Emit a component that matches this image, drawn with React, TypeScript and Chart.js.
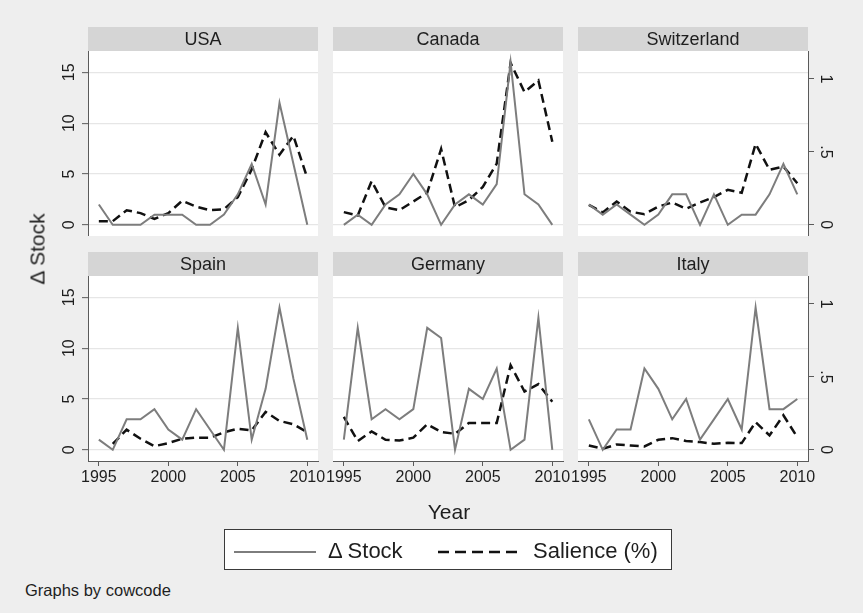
import React, { useEffect, useRef } from 'react';
import { Chart, registerables } from 'chart.js';

Chart.register(...registerables);

const FONT = '"Liberation Sans", Arial, Helvetica, sans-serif';
Chart.defaults.font.family = FONT;

// ---------- data ----------
const years = [1995, 1996, 1997, 1998, 1999, 2000, 2001, 2002, 2003, 2004, 2005, 2006, 2007, 2008, 2009, 2010];
const xTicks = [1995, 2000, 2005, 2010];
const stockTicks = [0, 5, 10, 15];
const salienceTicks = [0, 0.5, 1];
const salienceTickLabels = ['0', '.5', '1'];

const usaStock = [2, 0, 0, 0, 1, 1, 1, 0, 0, 1, 3, 6, 2, 12, 6, 0];
const usaSalience = [0.025, 0.025, 0.1, 0.08, 0.04, 0.08, 0.165, 0.125, 0.1, 0.107, 0.19, 0.38, 0.635, 0.48, 0.61, 0.32];

const canadaStock = [0, 1, 0, 2, 3, 5, 3, 0, 2, 3, 2, 4, 16, 3, 2, 0];
const canadaSalience = [0.087, 0.064, 0.3, 0.12, 0.1, 0.16, 0.22, 0.52, 0.12, 0.17, 0.26, 0.42, 1.11, 0.91, 0.99, 0.57];

const switzerlandStock = [2, 1, 2, 1, 0, 1, 3, 3, 0, 3, 0, 1, 1, 3, 6, 3];
const switzerlandSalience = [0.137, 0.085, 0.16, 0.09, 0.073, 0.125, 0.153, 0.11, 0.153, 0.19, 0.24, 0.22, 0.555, 0.377, 0.4, 0.285];

const spainStock = [1, 0, 3, 3, 4, 2, 1, 4, 2, 0, 12, 1, 6, 14, 7, 1];
const spainSalience = [null, 0.04, 0.138, 0.076, 0.025, 0.046, 0.076, 0.083, 0.083, 0.12, 0.145, 0.133, 0.26, 0.198, 0.175, 0.12];

const germanyStock = [1, 12, 3, 4, 3, 4, 12, 11, 0, 6, 5, 8, 0, 1, 13, 0];
const germanySalience = [0.225, 0.06, 0.126, 0.069, 0.064, 0.083, 0.175, 0.122, 0.11, 0.184, 0.184, 0.184, 0.58, 0.4, 0.45, 0.33];

const italyStock = [3, 0, 2, 2, 8, 6, 3, 5, 1, 3, 5, 2, 14, 4, 4, 5];
const italySalience = [0.03, 0.007, 0.037, 0.03, 0.023, 0.069, 0.08, 0.06, 0.053, 0.041, 0.048, 0.046, 0.19, 0.099, 0.237, 0.087];

const seriesLabels = ['\u0394 Stock', 'Salience (%)'];
const yTitle = '\u0394 Stock';
const xTitle = 'Year';
const note = 'Graphs by cowcode';

// ---------- layout / style ----------
const STOCK_MIN = -1.1;
const STOCK_MAX = 17.1;
const RATIO = 14.35; // stock units per salience unit
const X_MIN = 1994.22;
const X_MAX = 2010.77;

const AXIS = '#5a5a5a';
const GRID = '#e6e6e6';
const TEXT = '#1e1e1e';
const STOCK_COLOR = '#7d7d7d';
const SAL_COLOR = '#111111';
const HEADER = '#d5d5d5';

const SIDE = 16; // extra canvas room so tick labels are not clipped
const COLS = [
  { left: 48, width: 270 + SIDE, leftW: 40, rightW: 0, padL: 0, padR: SIDE },
  { left: 333 - SIDE, width: 230 + 2 * SIDE, leftW: 0, rightW: 0, padL: SIDE, padR: SIDE },
  { left: 578 - SIDE, width: 272 + SIDE, leftW: 0, rightW: 42, padL: SIDE, padR: 0 },
];
const ROWS = [
  { top: 27, height: 209, bottomH: 0 },
  { top: 252, height: 238, bottomH: 29 },
];
const HEADER_H = 24;

type PanelProps = {
  title: string;
  stock: number[];
  salience: (number | null)[];
  col: number;
  row: number;
};

const panelPlugin = (title: string) => ({
  id: 'panelBg',
  beforeDraw(chart: any) {
    const { ctx, chartArea: a } = chart;
    ctx.save();
    ctx.fillStyle = '#ffffff';
    ctx.fillRect(a.left, a.top, a.right - a.left, a.bottom - a.top);
    ctx.fillStyle = HEADER;
    ctx.fillRect(a.left, 0, a.right - a.left, a.top);
    ctx.fillStyle = TEXT;
    ctx.font = `18px ${FONT}`;
    ctx.textAlign = 'center';
    ctx.textBaseline = 'middle';
    ctx.fillText(title, (a.left + a.right) / 2, a.top / 2 + 1);
    ctx.restore();
  },
});

function Panel({ title, stock, salience, col, row }: PanelProps) {
  const ref = useRef<HTMLCanvasElement>(null);
  const c = COLS[col];
  const r = ROWS[row];
  useEffect(() => {
    if (!ref.current) return;
    const showLeft = col === 0;
    const showRight = col === 2;
    const showBottom = row === 1;
    const chart = new Chart(ref.current, {
      type: 'line',
      data: {
        datasets: [
          {
            label: seriesLabels[0],
            data: years.map((y, i) => ({ x: y, y: stock[i] })),
            borderColor: STOCK_COLOR,
            borderWidth: 2,
            pointRadius: 0,
            tension: 0,
            yAxisID: 'y',
          },
          {
            label: seriesLabels[1],
            data: years.map((y, i) => ({ x: y, y: salience[i] })),
            borderColor: SAL_COLOR,
            borderWidth: 2.5,
            borderDash: [9, 5],
            pointRadius: 0,
            tension: 0,
            yAxisID: 'y2',
          },
        ],
      },
      options: {
        animation: false,
        responsive: false,
        events: [],
        layout: { padding: { top: HEADER_H, left: c.padL, right: c.padR, bottom: 0 } },
        plugins: {
          legend: { display: false },
          tooltip: { enabled: false },
          title: { display: false },
        },
        scales: {
          x: {
            type: 'linear',
            position: 'bottom',
            min: X_MIN,
            max: X_MAX,
            bounds: 'data',
            display: showBottom,
            afterBuildTicks: (s: any) => {
              s.ticks = xTicks.map((v) => ({ value: v }));
            },
            afterFit: (s: any) => {
              s.height = r.bottomH;
              s.paddingLeft = 0;
              s.paddingRight = 0;
            },
            grid: {
              drawOnChartArea: false,
              drawTicks: true,
              tickLength: 5,
              tickColor: AXIS,
              tickWidth: 1,
            },
            border: { display: true, color: AXIS, width: 1 },
            ticks: {
              autoSkip: false,
              minRotation: 0,
              maxRotation: 0,
              padding: 2,
              color: TEXT,
              font: { size: 16 },
              callback: (v: any) => String(v),
            },
          },
          y: {
            type: 'linear',
            position: 'left',
            min: STOCK_MIN,
            max: STOCK_MAX,
            bounds: 'data',
            display: true,
            afterBuildTicks: (s: any) => {
              s.ticks = stockTicks.map((v) => ({ value: v }));
            },
            afterFit: (s: any) => {
              s.width = c.leftW;
              s.paddingTop = 0;
              s.paddingBottom = 0;
            },
            grid: {
              color: GRID,
              lineWidth: 1.3,
              drawTicks: showLeft,
              tickLength: 6,
              tickColor: AXIS,
              tickWidth: 1,
            },
            border: { display: showLeft, color: AXIS, width: 1 },
            ticks: {
              display: showLeft,
              minRotation: 90,
              maxRotation: 90,
              crossAlign: 'center',
              padding: 4,
              color: TEXT,
              font: { size: 16 },
              callback: (v: any) => String(v),
            },
          },
          y2: {
            type: 'linear',
            position: 'right',
            min: STOCK_MIN / RATIO,
            max: STOCK_MAX / RATIO,
            bounds: 'data',
            display: showRight,
            afterBuildTicks: (s: any) => {
              s.ticks = salienceTicks.map((v) => ({ value: v }));
            },
            afterFit: (s: any) => {
              s.width = c.rightW;
              s.paddingTop = 0;
              s.paddingBottom = 0;
            },
            grid: {
              drawOnChartArea: false,
              drawTicks: true,
              tickLength: 6,
              tickColor: AXIS,
              tickWidth: 1,
            },
            border: { display: true, color: AXIS, width: 1 },
            ticks: {
              minRotation: -90,
              maxRotation: -90,
              crossAlign: 'center',
              padding: 5,
              color: TEXT,
              font: { size: 16 },
              callback: (v: any) => {
                const i = salienceTicks.indexOf(v);
                return i >= 0 ? salienceTickLabels[i] : '';
              },
            },
          },
        },
      } as any,
      plugins: [panelPlugin(title)],
    });
    return () => chart.destroy();
  }, [title, stock, salience, col, row]);

  return (
    <canvas
      ref={ref}
      width={c.width}
      height={r.height}
      style={{ position: 'absolute', left: c.left, top: r.top, width: c.width, height: r.height }}
    />
  );
}

const panels: PanelProps[] = [
  { title: 'USA', stock: usaStock, salience: usaSalience, col: 0, row: 0 },
  { title: 'Canada', stock: canadaStock, salience: canadaSalience, col: 1, row: 0 },
  { title: 'Switzerland', stock: switzerlandStock, salience: switzerlandSalience, col: 2, row: 0 },
  { title: 'Spain', stock: spainStock, salience: spainSalience, col: 0, row: 1 },
  { title: 'Germany', stock: germanyStock, salience: germanySalience, col: 1, row: 1 },
  { title: 'Italy', stock: italyStock, salience: italySalience, col: 2, row: 1 },
];

export default function App() {
  return (
    <div
      style={{
        position: 'absolute',
        left: 0,
        top: 0,
        width: 863,
        height: 613,
        background: '#eeeeee',
        overflow: 'hidden',
        fontFamily: FONT,
        color: TEXT,
      }}
    >
      {panels.map((p) => (
        <Panel key={p.title} {...p} />
      ))}
      <div
        style={{
          position: 'absolute',
          left: 37,
          top: 249,
          transform: 'translate(-50%, -50%) rotate(-90deg)',
          fontSize: 21,
          whiteSpace: 'nowrap',
          lineHeight: 1,
        }}
      >
        {yTitle}
      </div>
      <div
        style={{
          position: 'absolute',
          left: 449,
          top: 511,
          transform: 'translate(-50%, -50%)',
          fontSize: 21,
          whiteSpace: 'nowrap',
          lineHeight: 1,
        }}
      >
        {xTitle}
      </div>
      <div
        style={{
          position: 'absolute',
          left: 224,
          top: 529,
          width: 446,
          height: 39,
          border: '1px solid #3a3a3a',
          background: '#ffffff',
        }}
      >
        <svg width={90} height={10} style={{ position: 'absolute', left: 9, top: 17 }}>
          <line x1={0} y1={5} x2={82} y2={5} stroke={STOCK_COLOR} strokeWidth={2} />
        </svg>
        <div style={{ position: 'absolute', left: 103, top: 21, transform: 'translateY(-50%)', fontSize: 22, lineHeight: 1, whiteSpace: 'nowrap' }}>
          {seriesLabels[0]}
        </div>
        <svg width={90} height={10} style={{ position: 'absolute', left: 213, top: 17 }}>
          <line x1={0} y1={5} x2={85} y2={5} stroke={SAL_COLOR} strokeWidth={2.6} strokeDasharray="11 6" />
        </svg>
        <div style={{ position: 'absolute', left: 308, top: 21, transform: 'translateY(-50%)', fontSize: 22, lineHeight: 1, whiteSpace: 'nowrap' }}>
          {seriesLabels[1]}
        </div>
      </div>
      <div
        style={{
          position: 'absolute',
          left: 25,
          top: 590,
          transform: 'translateY(-50%)',
          fontSize: 16.5,
          whiteSpace: 'nowrap',
          lineHeight: 1,
        }}
      >
        {note}
      </div>
    </div>
  );
}
